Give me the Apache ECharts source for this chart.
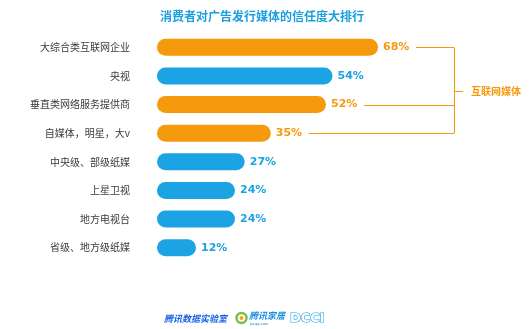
<!DOCTYPE html>
<html><head><meta charset="utf-8">
<script src="https://cdn.jsdelivr.net/npm/echarts@6/dist/echarts.min.js"></script>
<style>html,body{margin:0;padding:0;background:#fff}#c{width:529px;height:329px}</style>
</head><body><div id="c"></div>
<script>
var categories = ['大综合类互联网企业','央视','垂直类网络服务提供商','自媒体，明星，大v','中央级、部级纸媒','上星卫视','地方电视台','省级、地方级纸媒'];
var values = [68, 54, 52, 35, 27, 24, 24, 12];
var isInternet = [true, false, true, true, false, false, false, false];
var groupLabel = '互联网媒体';
var titleText = '消费者对广告发行媒体的信任度大排行';

var ORANGE = '#F49A0C', BLUE = '#1BA3E3';
var FONT = '"Noto Sans CJK SC", sans-serif';
var chart = echarts.init(document.getElementById('c'));
var data = values.map(function (v, i) {
  var col = isInternet[i] ? ORANGE : BLUE;
  return { value: v, itemStyle: { color: col }, label: { color: col } };
});
chart.setOption({
  animation: false,
  title: { text: titleText, left: 155, top: 5,
    textStyle: { color: '#1A9FE0', fontSize: 12, fontWeight: 'bold', fontFamily: FONT } },
  grid: { left: 157, right: 112, top: 33, bottom: 67 },
  xAxis: { type: 'value', min: 0, max: 80, show: false },
  yAxis: { type: 'category', data: categories, inverse: true,
    axisLine: { show: false }, axisTick: { show: false },
    axisLabel: { margin: 27, color: '#3a3a3a', fontSize: 10, fontFamily: FONT } },
  series: [{
    type: 'bar', data: data, barWidth: 17,
    itemStyle: { borderRadius: 8.5 },
    label: { show: true, position: 'right', distance: 5, formatter: '{c}%',
      fontSize: 11, fontWeight: 'bold', fontFamily: 'Verdana, "DejaVu Sans", sans-serif' }
  }]
});

// bracket for internet-media group, positioned from the data
var pts = [];
values.forEach(function (v, i) {
  if (isInternet[i]) pts.push(chart.convertToPixel({ gridIndex: 0 }, [v, i]));
});
var bx = 454;
var lineStyle = { stroke: ORANGE, lineWidth: 1 };
var els = [];
var ys = pts.map(function (p) { return Math.round(p[1]) + 0.5; });
pts.forEach(function (p, k) {
  els.push({ type: 'line', shape: { x1: p[0] + 38, y1: ys[k], x2: bx, y2: ys[k] }, style: lineStyle });
});
var yTop = Math.min.apply(null, ys), yBot = Math.max.apply(null, ys);
var yMid = Math.round((yTop + yBot) / 2) + 0.5;
els.push({ type: 'line', shape: { x1: bx + 0.5, y1: yTop, x2: bx + 0.5, y2: yBot }, style: lineStyle });
els.push({ type: 'line', shape: { x1: bx, y1: yMid, x2: bx + 9, y2: yMid }, style: lineStyle });
els.push({ type: 'text', x: bx + 17, y: yMid, style: { text: groupLabel, fill: ORANGE,
  font: 'bold 10px ' + FONT, textVerticalAlign: 'middle' } });

// footer logos (text approximations)
els.push({ type: 'text', x: 164, y: 319, style: { text: '腾讯数据实验室', fill: '#1560E8',
  font: 'italic bold 9px ' + FONT, textVerticalAlign: 'middle' } });
els.push({ type: 'circle', shape: { cx: 241.5, cy: 318, r: 5 }, style: { fill: '#fff', stroke: '#7BC043', lineWidth: 2.5 } });
els.push({ type: 'circle', shape: { cx: 241.5, cy: 318, r: 2 }, style: { fill: '#F4A020' } });
els.push({ type: 'text', x: 249, y: 316, style: { text: '腾讯家居', fill: '#1A8FE0',
  font: 'italic bold 9px ' + FONT, textVerticalAlign: 'middle' } });
els.push({ type: 'text', x: 250, y: 324, style: { text: 'jia.qq.com', fill: '#1A8FE0',
  font: '4px sans-serif', textVerticalAlign: 'middle' } });
els.push({ type: 'text', x: 290, y: 319, style: { text: 'DCCI', fill: '#fff', stroke: BLUE, lineWidth: 1.2,
  font: 'bold 13px "DejaVu Sans", sans-serif', textVerticalAlign: 'middle', letterSpacing: 5 } });
chart.setOption({ graphic: els });
</script></body></html>
